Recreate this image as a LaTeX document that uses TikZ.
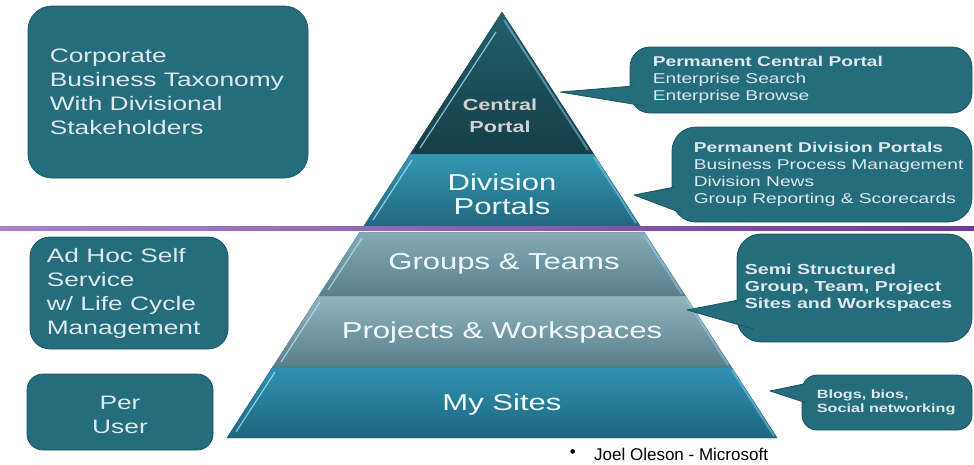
\documentclass[tikz,border=0pt]{standalone}
\usepackage{fontspec}
\setmainfont[FakeStretch=1.35]{Liberation Sans}
\newfontfamily\plainfont{Liberation Sans}
\usetikzlibrary{positioning}
\definecolor{boxteal}{HTML}{256C7C}
\definecolor{boxedge}{HTML}{1B5563}
\definecolor{textlight}{HTML}{DDE9EC}
\definecolor{rulelight}{HTML}{A584CC}
\definecolor{ruledark}{HTML}{6E3A9A}
\definecolor{centraltop}{HTML}{22606D}
\definecolor{centralbot}{HTML}{153E48}
\definecolor{divtop}{HTML}{3597B1}
\definecolor{divbot}{HTML}{206880}
\definecolor{grouptop}{HTML}{84ABB6}
\definecolor{groupbot}{HTML}{5A7F8A}
\definecolor{sitetop}{HTML}{3192B1}
\definecolor{sitebot}{HTML}{1D657E}

\begin{document}
\begin{tikzpicture}[x=1pt,y=-1pt]
\tikzstyle{boxed}=[rectangle, rounded corners=20pt, fill=boxteal, draw=boxedge, line width=0.8pt, inner sep=0pt]
\tikzstyle{boxtext}=[text=textlight, align=left, inner sep=0pt, font=\fontsize{19.5}{24}\selectfont]
\tikzstyle{layertext}=[text=white!94!cyan, align=center, inner sep=0pt, font=\fontsize{23}{24}\selectfont]
\tikzstyle{calltext}=[text=textlight, align=left, inner sep=0pt, font=\fontsize{14.2}{16.8}\selectfont]
\tikzstyle{pointer}=[fill=boxteal]
\tikzstyle{rim}=[draw=boxedge, line width=0.8pt, line join=round]
\tikzstyle{shine}=[draw=cyan!30!white, line width=1.2pt, opacity=0.75]
\tikzstyle{bevel}=[draw=cyan!40!white, line width=2pt, opacity=0.45]
  \useasboundingbox (0,0) rectangle (974,464);
  % central portal layer
  \shade[top color=centraltop, bottom color=centralbot, draw=centralbot] (502,12) -- (593.7,154) -- (410.3,154) -- cycle;
  \draw[shine] (496,32) -- (420,148);
  \draw[bevel] (504,20) -- (588,150);
  % division portals layer
  \shade[top color=divtop, bottom color=divbot, draw=divbot] (410.3,154) -- (593.7,154) -- (640.2,226) -- (363.8,226) -- cycle;
  \draw[shine] (412,160) -- (373,220);
  \draw[bevel] (594,157) -- (636,223);
  % groups and teams layer
  \shade[top color=grouptop, bottom color=groupbot, draw=groupbot] (359.9,232) -- (644.1,232) -- (685.5,296) -- (318.5,296) -- cycle;
  \draw[shine] (362,238) -- (328,290);
  \draw[bevel] (644,235) -- (682,294);
  % projects and workspaces layer
  \shade[top color=grouptop!90!white, bottom color=groupbot, draw=groupbot] (318.5,296) -- (685.5,296) -- (731.4,367) -- (272.6,367) -- cycle;
  \draw[shine] (320,302) -- (281,362);
  \draw[bevel] (686,299) -- (728,365);
  % my sites layer
  \shade[top color=sitetop, bottom color=sitebot, draw=sitebot] (272.6,367) -- (731.4,367) -- (777.2,438) -- (226.8,438) -- cycle;
  \draw[shine] (275,372) -- (236,432);
  \draw[bevel] (732,370) -- (774,436);
  % purple rule
  \shade[left color=rulelight, right color=ruledark] (0,226) rectangle (974,230.5);
  % layer labels
  \node[layertext, text=black!18!white, font=\bfseries\fontsize{16}{22}\selectfont] (central) at (500,116) {Central\\Portal};
  \node[layertext] (division) at (502,194) {Division\\Portals};
  \node[layertext] (groups) at (504,264) {Groups \& Teams};
  \node[layertext] (projects) at (502,333) {Projects \& Workspaces};
  \node[layertext] (mysites) at (502,405) {My Sites};
  % corporate
  \node[boxed, rounded corners=24pt, minimum width=280pt, minimum height=172pt] (corp) at (168,92) {};
  \node[boxtext] (corptext) [right=22pt of corp.west] {Corporate\\Business Taxonomy\\With Divisional\\Stakeholders};
  % ad hoc
  \node[boxed, minimum width=198pt, minimum height=112pt] (adhoc) at (129,293) {};
  \node[boxtext] (adhoctext) [right=17pt of adhoc.west] {Ad Hoc Self\\Service\\w/ Life Cycle\\Management};
  % per user
  \node[boxed, rounded corners=16pt, minimum width=186pt, minimum height=76pt] (peruser) at (120,412) {};
  \node[boxtext, align=center] (peruser text) at (120,415) {Per\\User};
  % central callout
  \node[boxed, minimum width=342pt, minimum height=66pt] (cc) at (801,80) {};
  \coordinate (cctip) at (560,92);
  \fill[pointer] ([xshift=4pt,yshift=-6pt]cc.west) -- (cctip) -- ([xshift=15pt,yshift=-26pt]cc.west) -- cycle;
  \draw[rim] ([xshift=4pt,yshift=-6pt]cc.west) -- (cctip) -- ([xshift=15pt,yshift=-26pt]cc.west);
  \node[calltext] (cctext) [right=23pt of cc.west] {\textbf{Permanent Central Portal}\\Enterprise Search\\Enterprise Browse};
  % division callout
  \node[boxed, rounded corners=24pt, minimum width=300pt, minimum height=95pt] (cd) at (822,174.5) {};
  \coordinate (cdtip) at (634,195);
  \fill[pointer] ([xshift=3pt,yshift=-12.5pt]cd.west) -- (cdtip) -- ([xshift=10pt,yshift=-38.5pt]cd.west) -- cycle;
  \draw[rim] ([xshift=3pt,yshift=-12.5pt]cd.west) -- (cdtip) -- ([xshift=10pt,yshift=-38.5pt]cd.west);
  \node[calltext] (cdtext) [right=22pt of cd.west] {\textbf{Permanent Division Portals}\\Business Process Management\\Division News\\Group Reporting \& Scorecards};
  % semi structured callout
  \node[boxed, rounded corners=24pt, minimum width=235pt, minimum height=108pt] (cs) at (854.5,288) {};
  \coordinate (cstip) at (687,310);
  \fill[pointer] ([xshift=7pt,yshift=-11pt]cs.west) -- (cstip) -- ([xshift=17pt,yshift=-41pt]cs.west) -- cycle;
  \draw[rim] ([xshift=7pt,yshift=-11pt]cs.west) -- (cstip) -- ([xshift=17pt,yshift=-41pt]cs.west);
  \node[calltext, font=\bfseries\fontsize{14.5}{17}\selectfont] (cstext) [right=8pt of cs.west] {Semi Structured\\Group, Team, Project\\Sites and Workspaces};
  % blogs callout
  \node[boxed, rounded corners=15pt, minimum width=170pt, minimum height=55pt] (cb) at (887,402.5) {};
  \coordinate (cbtip) at (770,391);
  \fill[pointer] ([xshift=2pt,yshift=18.5pt]cb.west) -- (cbtip) -- ([xshift=5pt,yshift=-0.5pt]cb.west) -- cycle;
  \draw[rim] ([xshift=2pt,yshift=18.5pt]cb.west) -- (cbtip) -- ([xshift=5pt,yshift=-0.5pt]cb.west);
  \node[calltext, font=\bfseries\fontsize{12}{14}\selectfont] (cbtext) [right=15pt of cb.west] {Blogs, bios,\\Social networking};
  % credit
  \node[inner sep=0pt, anchor=west, font=\plainfont\fontsize{17}{20}\selectfont] (credit) at (594,454) {Joel Oleson - Microsoft};
  \node[inner sep=0pt, font=\plainfont\fontsize{17}{20}\selectfont] (dot) [left=18pt of credit] {\textbullet};
\end{tikzpicture}
\end{document}
